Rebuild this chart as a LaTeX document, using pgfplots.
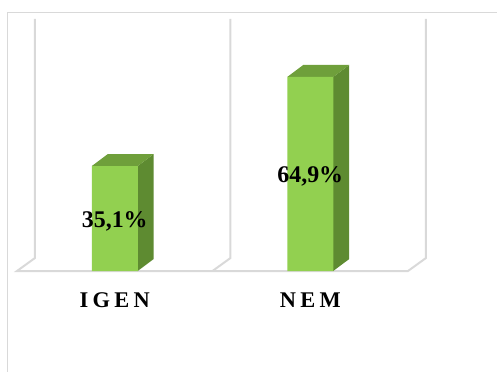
\documentclass[border=0pt]{standalone}
\usepackage{fontspec}
\setmainfont{Liberation Serif}
\usepackage{pgfplots}
\pgfplotsset{compat=1.18}

\definecolor{barfront}{HTML}{92D050}
\definecolor{barside}{HTML}{5E8B31}
\definecolor{bartop}{HTML}{6F9F3B}
\definecolor{gridgray}{HTML}{D9D9D9}

% letter-spaced category names
\newcommand{\spaced}[1]{\spacedloop#1\relax}
\def\spacedloop#1#2{#1\ifx#2\relax\else\kern4.3bp\expandafter\spacedloop\expandafter#2\fi}

\begin{document}
\begin{tikzpicture}
\begin{axis}[
  scale only axis, width=391bp, height=239.2bp,
  xmin=-0.5, xmax=1.5, ymin=0, ymax=80,
  clip=false,
  axis line style={draw=none},
  tick style={draw=none},
  ytick=\empty,
  xtick={0,1},
  xticklabels={\spaced{IGEN},\spaced{NEM}},
  xticklabel style={anchor=base, yshift=-36.5bp,
    font=\bfseries\fontsize{22.5}{26}\selectfont},
  /pgf/number format/assume math mode=true,
]
\coordinate (O) at (axis cs:-0.5,0);
% back wall and floor lines
\addplot[gridgray, line width=2bp] coordinates
  {(-0.408,84.35) (-0.408,4.35) (-0.5,0) (1.5,0) (1.592,4.35) (1.592,84.35)};
\addplot[gridgray, line width=2bp] coordinates
  {(0.592,84.35) (0.592,4.35) (0.5,0)};
% side faces
\addplot[fill=barside, draw=none] coordinates
  {(0.1176,0) (0.1994,4.01) (0.1994,39.11) (0.1176,35.1)};
\addplot[fill=barside, draw=none] coordinates
  {(1.1176,0) (1.1994,4.01) (1.1994,68.91) (1.1176,64.9)};
% top faces
\addplot[fill=bartop, draw=none] coordinates
  {(-0.1176,35.1) (0.1176,35.1) (0.1994,39.11) (-0.0358,39.11)};
\addplot[fill=bartop, draw=none] coordinates
  {(0.8824,64.9) (1.1176,64.9) (1.1994,68.91) (0.9642,68.91)};
% front faces with value labels
\addplot[ybar, bar width=46bp, bar shift=0pt, fill=barfront, draw=none,
  visualization depends on={rawy \as \rawy},
  nodes near coords={\pgfmathprintnumber[fixed, fixed zerofill, precision=1, use comma]{\pgfplotspointmeta}\%},
  every node near coord/.append style={anchor=center, yshift={-1.5006*\rawy-2.5},
    text=black, font=\bfseries\fontsize{24}{28}\selectfont},
] coordinates {(0,35.1) (1,64.9)};
\end{axis}
% chart area frame
\draw[gridgray, line width=1bp]
  ([shift={(-9bp,-101bp)}]O) -- ([shift={(-9bp,258bp)}]O) -- ([shift={(480bp,258bp)}]O);
\pgfresetboundingbox
\path[use as bounding box] ([shift={(-17bp,-101bp)}]O) rectangle ([shift={(480bp,271bp)}]O);
\end{tikzpicture}
\end{document}
